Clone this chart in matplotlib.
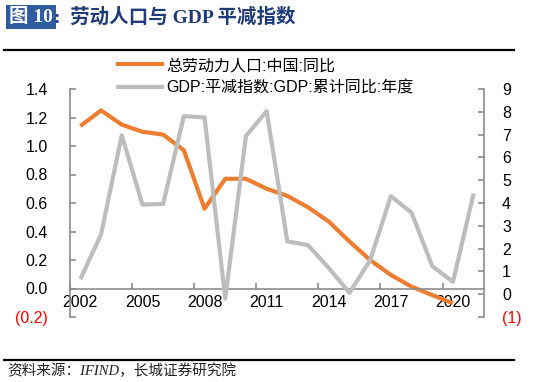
import numpy as np
import matplotlib
matplotlib.use('Agg')
import matplotlib.pyplot as plt
from matplotlib.lines import Line2D

plt.rcParams['font.family'] = ['Liberation Sans', 'Noto Sans CJK SC']
plt.rcParams['axes.unicode_minus'] = False

# data
years = list(range(2002, 2022))
labor_yoy = [1.14, 1.25, 1.15, 1.10, 1.08, 0.97, 0.56, 0.77, 0.77, 0.70,
             0.65, 0.57, 0.47, 0.33, 0.20, 0.095, 0.013, -0.046, -0.104, np.nan]
gdp_deflator = [0.66, 2.62, 6.97, 3.93, 3.96, 7.81, 7.75, -0.19, 6.94, 8.03,
                2.32, 2.15, 1.15, 0.06, 1.49, 4.30, 3.58, 1.23, 0.54, 4.42]

label_labor = '总劳动力人口:中国:同比'
label_gdp = 'GDP:平减指数:GDP:累计同比:年度'
left_ticks = [-0.2, 0.0, 0.2, 0.4, 0.6, 0.8, 1.0, 1.2, 1.4]
left_labels = ['(0.2)', '0.0', '0.2', '0.4', '0.6', '0.8', '1.0', '1.2', '1.4']
right_ticks = [-1, 0, 1, 2, 3, 4, 5, 6, 7, 8, 9]
right_labels = ['(1)', '0', '1', '2', '3', '4', '5', '6', '7', '8', '9']

orange = '#ED7D31'
grey = '#BDBDBD'
spine_c = '#8C8C8C'
fs = 11.5

W, H = 550, 382
fig = plt.figure(figsize=(W / 100, H / 100), dpi=100)
ax1 = fig.add_axes([70 / W, 1 - 317 / H, 414 / W, 228 / H])
ax2 = ax1.twinx()

x = np.arange(len(years))
ax1.plot(x, labor_yoy, color=orange, lw=3.0, solid_capstyle='butt')
ax2.plot(x, gdp_deflator, color=grey, lw=3.0, solid_capstyle='butt')

ax1.set_xlim(-0.5, len(years) - 0.5)
ax1.set_ylim(-0.2, 1.4)
ax2.set_ylim(-1, 9)

# spines
for s in ['top', 'right']:
    ax1.spines[s].set_visible(False)
for s in ['top', 'left', 'bottom']:
    ax2.spines[s].set_visible(False)
ax1.spines['bottom'].set_position(('data', 0))
for sp in [ax1.spines['left'], ax1.spines['bottom'], ax2.spines['right']]:
    sp.set_color(spine_c)
    sp.set_linewidth(1.2)

# x axis: labels centred on the years, ticks on category boundaries
ax1.set_xticks(x[::3])
ax1.set_xticklabels([str(y) for y in years[::3]], fontsize=fs)
ax1.set_xticks(np.arange(-0.5, len(years) - 1, 3), minor=True)
ax1.tick_params(axis='x', which='major', length=0, pad=5)
ax1.tick_params(axis='x', which='minor', direction='in', length=4, color=spine_c, width=1.2)

ax1.set_yticks(left_ticks)
ax1.set_yticklabels(left_labels, fontsize=fs)
ax1.tick_params(axis='y', direction='in', length=4, color=spine_c, width=1.2, pad=16)
ax2.set_yticks(right_ticks)
ax2.set_yticklabels(right_labels, fontsize=fs)
ax2.tick_params(axis='y', direction='in', length=4, color=spine_c, width=1.2, pad=13)
ax1.get_yticklabels()[0].set_color('red')
ax2.get_yticklabels()[0].set_color('red')

# legend
handles = [Line2D([], [], color=orange, lw=3.0), Line2D([], [], color=grey, lw=3.0)]
fig.legend(handles, [label_labor, label_gdp], loc='upper left',
           bbox_to_anchor=(118 / W, 1 - 58 / H), frameon=False, fontsize=fs,
           handlelength=2.75, handletextpad=0.3, labelspacing=0.45,
           borderpad=0, borderaxespad=0)

# title
fig.text(9 / W, 1 - 17 / H, '图 10', color='white', fontsize=14, fontweight='bold',
         family=['Liberation Serif', 'Noto Sans CJK SC'], va='center', ha='left',
         bbox=dict(boxstyle='square,pad=0.15', fc='#2E5C9E', ec='none'))
fig.text(54 / W, 1 - 17 / H, ':  劳动人口与 GDP 平减指数', color='#1F3A78', fontsize=14,
         fontweight='bold', family=['Liberation Serif', 'Noto Sans CJK SC'],
         va='center', ha='left')

fig.add_artist(Line2D([4 / W, 514 / W], [1 - 50 / H, 1 - 50 / H], color='black', lw=1.6))
fig.add_artist(Line2D([4 / W, 514 / W], [1 - 360 / H, 1 - 360 / H], color='black', lw=1.6))

fig.text(7 / W, 1 - 371 / H, '资料来源：IFIND，长城证券研究院', fontsize=10.5,
         style='italic', family=['Liberation Serif', 'Noto Sans CJK SC'],
         va='center', ha='left', color='#222222')

fig.savefig('out.png', dpi=100)
